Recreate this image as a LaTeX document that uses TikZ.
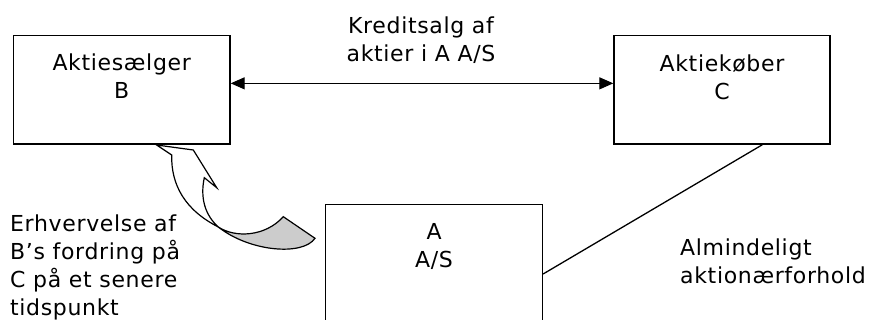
\documentclass[tikz,border=0pt]{standalone}
\usepackage{fontspec}
\setmainfont{DejaVu Sans}[LetterSpace=3]
\usetikzlibrary{arrows.meta}
\begin{document}
\begin{tikzpicture}[x=1pt,y=-1pt,
  box/.style={draw, line width=1.4pt, rectangle, inner sep=0pt, anchor=north west},
  txt/.style={font=\fontsize{22}{28}\selectfont, inner sep=0pt, align=center},
  link/.style={line width=1.3pt},
  both/.style={link, >={Triangle[length=14pt,width=12pt]}, <->},
  band/.style={line width=1.2pt, line join=miter}]
\clip (0,0) rectangle (874,320);
\fill[white] (0,0) rectangle (874,320);

% the three parties
\node[box, minimum width=216.6pt, minimum height=108.3pt] (B) at (12.7,35) {};
\node[box, minimum width=216pt, minimum height=108.3pt] (C) at (613.3,35) {};
\node[box, minimum width=216.7pt, minimum height=140pt] (A) at (325,204) {};

% multi-line texts are placed by the baseline of their last line
\node[txt, anchor=base] (bt) at ([yshift=-63.3pt]B.north) {Aktiesælger\\B};
\node[txt, anchor=base] (ct) at ([yshift=-64.5pt]C.north) {Aktiekøber\\C};
\node[txt, anchor=base] (at) at ([yshift=-63.5pt]A.north) {A\\A/S};

% labels
\node[txt, anchor=base] (kt) at (421,61.7) {Kreditsalg af\\aktier i A A/S};
\node[txt, align=left, anchor=base west] (et) at (10,315) {Erhvervelse af\\B’s fordring på\\C på et senere\\tidspunkt};
\node[txt, align=left, anchor=base west] (ht) at (680,283) {Almindeligt\\aktionærforhold};

% connectors
\draw[both] ([yshift=6.5pt]B.east) -- ([yshift=6.5pt]C.west);
\draw[link] ([xshift=40.4pt]C.south) -- ([yshift=-70pt]A.north east);

% curved block arrow
\coordinate (T) at (156.7,145);
\coordinate (H1) at (193.3,150);
\coordinate (B1) at (216.7,187.7);
\coordinate (N) at (204.3,177.7);
\coordinate (X) at (218.3,227);
\coordinate (L) at (171.7,155);
\coordinate (G1) at (283.3,216.7);
\coordinate (G2) at (315,238.3);
\filldraw[band, fill=white] (T) -- (H1) -- (B1) -- (N)
  .. controls (200,198) and (205,215) .. (X)
  .. controls (185,210) and (171,185) .. (L) -- cycle;
\filldraw[band, fill=gray!40] (X)
  .. controls (235,238) and (265,237) .. (G1) -- (G2)
  .. controls (303,256) and (250,252) .. (X) -- cycle;
\end{tikzpicture}
\end{document}
